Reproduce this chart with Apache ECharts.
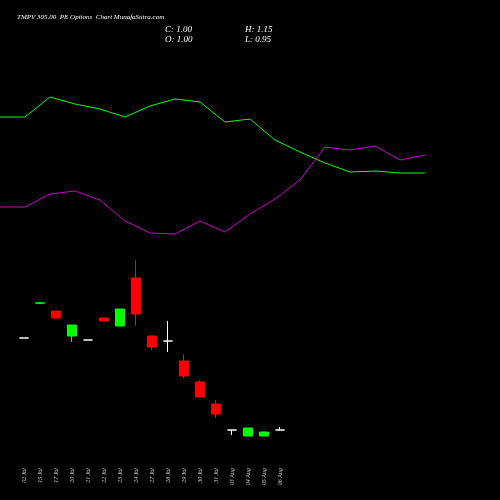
<!DOCTYPE html><html><head><meta charset="utf-8"><script src="https://cdn.jsdelivr.net/npm/echarts@6/dist/echarts.min.js"></script></head><body style="margin:0;background:#000"><div id="c" style="width:500px;height:500px"></div><script>
const dates=['02 Jul','15 Jul','17 Jul','20 Jul','21 Jul','22 Jul','23 Jul','24 Jul','27 Jul','28 Jul','29 Jul','30 Jul','31 Jul','03 Aug','04 Aug','05 Aug','06 Aug'];
// [open, close, low, high]
const candles=[[16.2,16.2,16.2,16.2],[19.68,19.72,19.68,19.72],[18.9,18.2,18.2,18.9],[16.4,17.5,15.8,17.5],[16.0,16.0,16.0,16.0],[18.2,17.9,17.9,18.2],[17.4,19.1,17.4,19.1],[22.2,18.6,17.4,24.0],[16.4,15.3,15.0,16.4],[15.9,15.9,14.8,17.9],[13.9,12.4,12.2,14.6],[11.8,10.3,10.3,12.0],[9.6,8.6,8.2,10.0],[7.0,7.0,6.5,7.0],[6.4,7.2,6.4,7.2],[6.4,6.8,6.4,6.8],[7.0,7.0,7.0,7.3]];
const lineA=[38.3,38.3,40.3,39.6,39.1,38.3,39.4,40.1,39.8,37.8,38.1,36.0,34.8,33.7,32.8,32.9,32.7,32.7];
const lineB=[29.3,29.3,30.6,30.9,30.0,27.9,26.7,26.6,27.9,26.8,28.6,30.1,32.0,35.3,35.0,35.4,34.0,34.5];
const ch=echarts.init(document.getElementById('c'));
ch.setOption({backgroundColor:'#000',animation:false,
title:[{text:'TMPV 305.00  PE Options  Chart MunafaSutra.com',left:12,top:9,textStyle:{color:'#fff',fontSize:7,fontFamily:'Liberation Serif',fontStyle:'italic',fontWeight:'normal'}},
{text:'C: 1.00\nO: 1.00',left:160,top:20,textStyle:{color:'#fff',fontSize:9,lineHeight:10,fontFamily:'Liberation Serif',fontStyle:'italic',fontWeight:'normal'}},
{text:'H: 1.15\nL: 0.95',left:240,top:20,textStyle:{color:'#fff',fontSize:9,lineHeight:10,fontFamily:'Liberation Serif',fontStyle:'italic',fontWeight:'normal'}}],
grid:[{left:16,width:272,top:250,height:200},{left:0,width:425,top:50,height:200}],
xAxis:[{type:'category',data:dates,gridIndex:0,axisLine:{show:false},axisTick:{show:false},axisLabel:{rotate:90,color:'#ccc',fontSize:6,margin:18,fontFamily:'Liberation Serif',fontStyle:'italic'}},
{type:'category',data:lineA.map((_, i)=>i),gridIndex:1,boundaryGap:false,show:false}],
yAxis:[{type:'value',gridIndex:0,min:5,max:25,show:false},{type:'value',gridIndex:1,min:25,max:45,show:false}],
series:[{type:'candlestick',xAxisIndex:0,yAxisIndex:0,data:candles,barWidth:10,itemStyle:{color:'#00ff00',color0:'#ff0000',borderColor:'#00ff00',borderColor0:'#ff0000',borderColorDoji:'#ffffff',borderWidth:1}},
{type:'line',xAxisIndex:1,yAxisIndex:1,data:lineA,symbol:'none',lineStyle:{color:'#00ff00',width:1}},
{type:'line',xAxisIndex:1,yAxisIndex:1,data:lineB,symbol:'none',lineStyle:{color:'#cc00cc',width:1}}]});
</script></body></html>
